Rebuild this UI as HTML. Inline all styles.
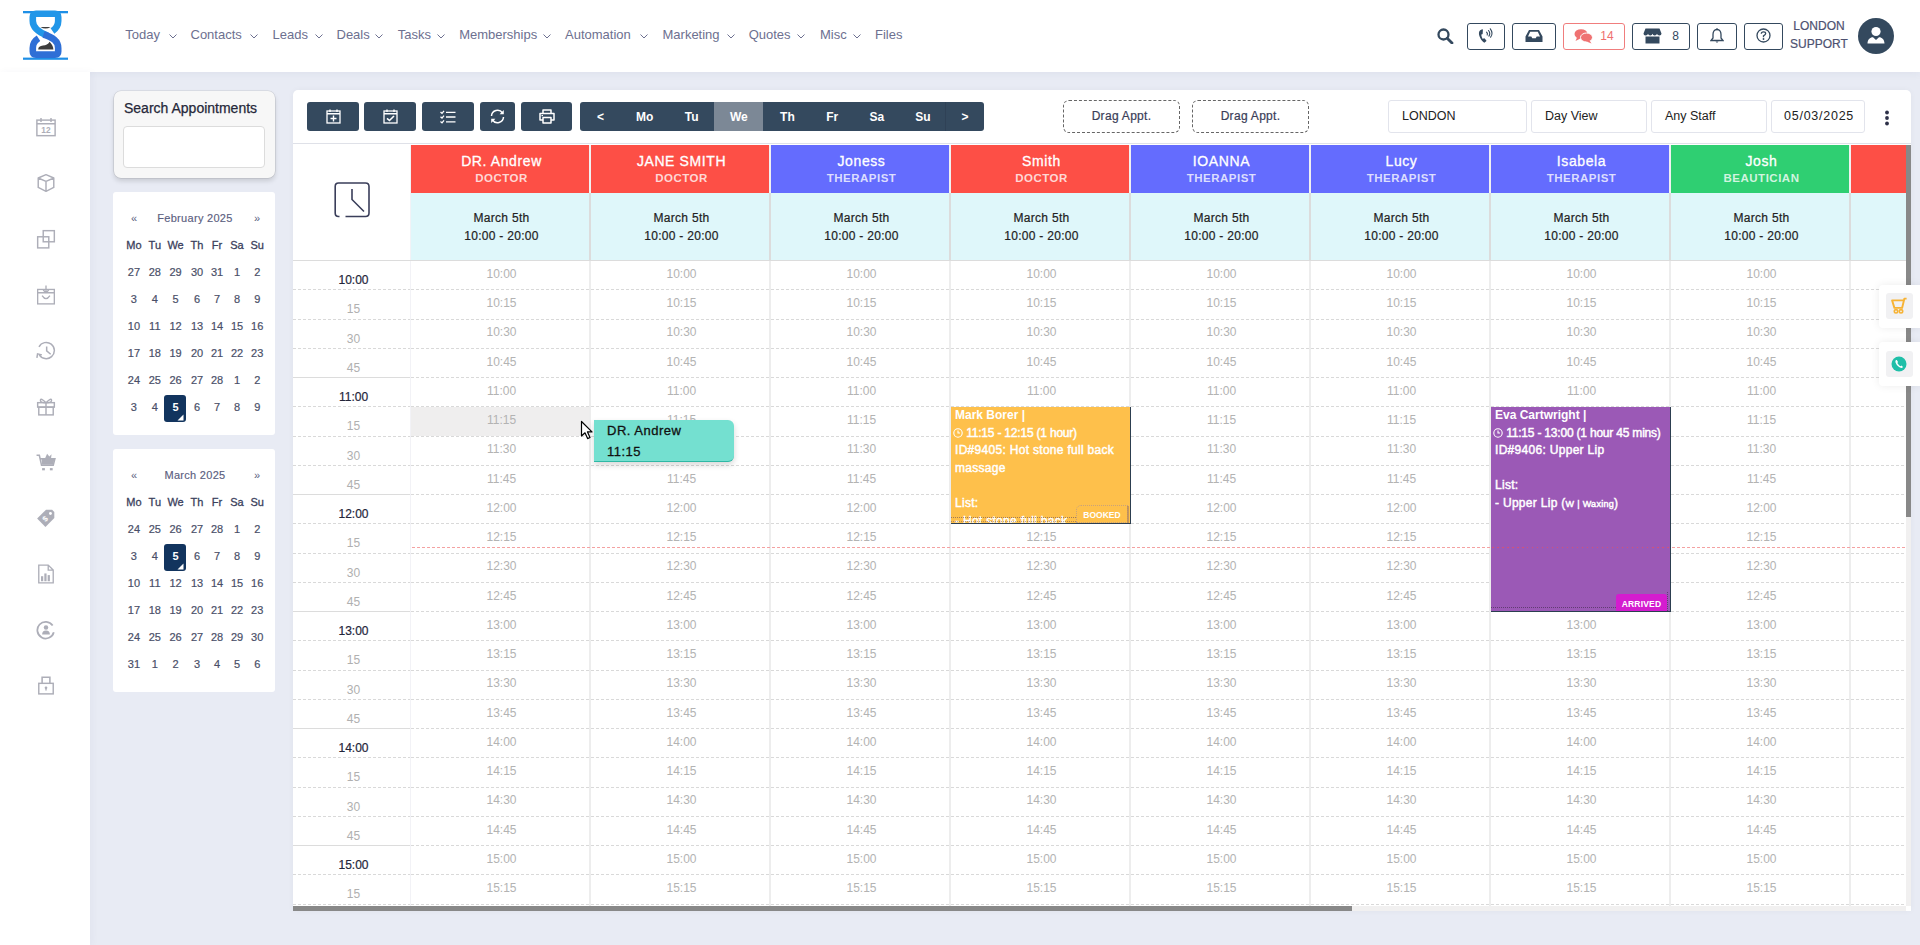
<!DOCTYPE html><html><head><meta charset="utf-8"><title>Calendar</title><style>
*{box-sizing:border-box;margin:0;padding:0}
html,body{width:1920px;height:945px;overflow:hidden}
body{background:#e8ebf4;font-family:"Liberation Sans",sans-serif;position:relative;color:#333}
.a{position:absolute}
#hdr{left:0;top:0;width:1920px;height:72px;background:#fff;box-shadow:0 2px 8px rgba(40,50,100,.05)}
#side{left:0;top:72px;width:90px;height:873px;background:#fff;box-shadow:2px 0 8px rgba(40,50,100,.04)}
.nav{top:27px;font-size:13px;color:#6d7090;white-space:nowrap;line-height:15px}
.chev{top:34px;width:8px;height:5px}
.hb{top:23px;height:27px;border:1.3px solid #34495e;border-radius:3px;display:flex;align-items:center;justify-content:center;color:#34495e;font-size:12px;line-height:12px;padding-bottom:2px}
.sicon{left:35.5px;width:20px;height:20px}
.card{background:#fff;border-radius:3px}
.mc{left:113px;width:162px}
.mdn{font-size:11px;color:#3b3f5c;text-align:center;width:20px;line-height:12px;-webkit-text-stroke:0.3px #3b3f5c}
.md{font-size:11px;color:#4a4f68;text-align:center;width:20px;line-height:12px;-webkit-text-stroke:0.2px #4a4f68}
.tb{top:102px;height:29px;background:#34495e;border-radius:3px;display:flex;align-items:center;justify-content:center}
.dn2{color:#fff;font-weight:bold;font-size:12px;text-align:center;line-height:29px;top:0;height:29px}
.sel{top:100px;height:33px;border:1px solid #e2e4ec;border-radius:3px;font-size:12.5px;color:#222;line-height:31px;padding-left:13px;background:#fff}
.sh{height:48px;top:145px;text-align:center;color:#fff;padding-left:3px;overflow:hidden}
.sh .n{font-size:14px;line-height:16px;margin-top:8px;white-space:nowrap;letter-spacing:0.6px;-webkit-text-stroke:0.3px #fff}
.sh .r{font-size:11.5px;line-height:14px;margin-top:1.5px;font-weight:bold;letter-spacing:0.5px;color:rgba(255,255,255,.78);white-space:nowrap}
.cy{top:193px;height:67px;background:#dff7fa;text-align:center;font-size:12px;color:#222;line-height:18px;letter-spacing:0.3px;-webkit-text-stroke:0.2px #222;padding-top:16px;padding-left:3px}
.sep{width:2px}
.cl{font-size:12px;color:#b3b3b3;text-align:center;width:181px;white-space:nowrap}
.tl{font-size:12px;color:#b0b0b0;text-align:center;width:117px;left:295px}
.tl.h{color:#23253a;-webkit-text-stroke:0.2px #23253a}
.dl{height:1px;background-image:repeating-linear-gradient(to right,#d9d9d9 0 3px,transparent 3px 5px)}
.ap{color:#fff;font-size:12px;line-height:17.6px;overflow:hidden;white-space:nowrap;-webkit-text-stroke:0.45px #fff;letter-spacing:0.3px}
.ap .b{font-weight:bold;-webkit-text-stroke:0;letter-spacing:0}
</style></head><body>
<div id="hdr" class="a"></div>
<svg class="a" style="left:22px;top:10px" width="48" height="52" viewBox="0 0 48 52">
<rect x="1" y="1" width="45" height="2.3" fill="#1e8fe6"/>
<rect x="1" y="47.6" width="45" height="2.2" fill="#1e8fe6"/>
<path d="M25.5 25.5 C16 22, 10.8 18, 10.8 11 L10.8 7 Q10.8 3.8 14 3.8 L33 3.8 Q36.2 3.8 36.2 7 L36.2 11 C36.2 16, 34 18.5, 30.5 21" fill="none" stroke="#2196e8" stroke-width="6.6"/>
<path d="M21.5 24.5 C31 27.5, 36.2 31, 36.2 38 L36.2 41.5 Q36.2 44.6 33 44.6 L14 44.6 Q10.8 44.6 10.8 41.5 L10.8 38 C10.8 33, 13 30.5, 16.5 28.3" fill="none" stroke="#2f6fd6" stroke-width="6.6"/>
<path d="M16.2 39.4 C16.2 37 18 36 21 35.6 C24 35.3 26 34.5 27.6 31.8 C29.5 34 31.4 36.5 31.4 39.4 Z" fill="#3d3d3d"/>
<path d="M18.4 17 Q23.5 20 28.6 17 Z" fill="#3d3d3d"/>
</svg>
<div class="a nav" style="left:125.2px">Today</div>
<svg class="a chev" style="left:168.5px" viewBox="0 0 8 5"><path d="M0.5 0.5 L4 4 L7.5 0.5" fill="none" stroke="#6d7090" stroke-width="1"/></svg>
<div class="a nav" style="left:190.5px">Contacts</div>
<svg class="a chev" style="left:250.4px" viewBox="0 0 8 5"><path d="M0.5 0.5 L4 4 L7.5 0.5" fill="none" stroke="#6d7090" stroke-width="1"/></svg>
<div class="a nav" style="left:272.5px">Leads</div>
<svg class="a chev" style="left:314.5px" viewBox="0 0 8 5"><path d="M0.5 0.5 L4 4 L7.5 0.5" fill="none" stroke="#6d7090" stroke-width="1"/></svg>
<div class="a nav" style="left:336.5px">Deals</div>
<svg class="a chev" style="left:375px" viewBox="0 0 8 5"><path d="M0.5 0.5 L4 4 L7.5 0.5" fill="none" stroke="#6d7090" stroke-width="1"/></svg>
<div class="a nav" style="left:397.7px">Tasks</div>
<svg class="a chev" style="left:436.5px" viewBox="0 0 8 5"><path d="M0.5 0.5 L4 4 L7.5 0.5" fill="none" stroke="#6d7090" stroke-width="1"/></svg>
<div class="a nav" style="left:459.2px">Memberships</div>
<svg class="a chev" style="left:543px" viewBox="0 0 8 5"><path d="M0.5 0.5 L4 4 L7.5 0.5" fill="none" stroke="#6d7090" stroke-width="1"/></svg>
<div class="a nav" style="left:565px">Automation</div>
<svg class="a chev" style="left:640px" viewBox="0 0 8 5"><path d="M0.5 0.5 L4 4 L7.5 0.5" fill="none" stroke="#6d7090" stroke-width="1"/></svg>
<div class="a nav" style="left:662.5px">Marketing</div>
<svg class="a chev" style="left:726.5px" viewBox="0 0 8 5"><path d="M0.5 0.5 L4 4 L7.5 0.5" fill="none" stroke="#6d7090" stroke-width="1"/></svg>
<div class="a nav" style="left:748.7px">Quotes</div>
<svg class="a chev" style="left:797px" viewBox="0 0 8 5"><path d="M0.5 0.5 L4 4 L7.5 0.5" fill="none" stroke="#6d7090" stroke-width="1"/></svg>
<div class="a nav" style="left:820px">Misc</div>
<svg class="a chev" style="left:852.7px" viewBox="0 0 8 5"><path d="M0.5 0.5 L4 4 L7.5 0.5" fill="none" stroke="#6d7090" stroke-width="1"/></svg>
<div class="a nav" style="left:875px">Files</div>
<svg class="a" style="left:1437px;top:28px" width="17" height="16" viewBox="0 0 17 16"><circle cx="6.5" cy="6.5" r="5" fill="none" stroke="#34495e" stroke-width="2.3"/><path d="M10.2 10.2 L15 15" stroke="#34495e" stroke-width="2.8" stroke-linecap="round"/></svg>
<div class="a hb" style="left:1467px;width:38px"><svg width="18" height="18" viewBox="0 0 18 18" style="margin-top:1px"><path d="M5.2 2.2 L3.2 3.2 C1.8 4.4 1.6 6.5 2.4 9 C3.3 11.8 5.2 14.3 7.3 15.8 L9.2 14.3 C9.5 14 9.5 13.6 9.2 13.3 L7.6 11.5 C7.3 11.2 6.9 11.2 6.6 11.5 L5.8 12.1 C5 11 4.4 9.3 4.3 7.6 L5.3 7.2 C5.7 7 5.8 6.6 5.7 6.2 L5.9 2.7 C5.9 2.3 5.6 2.1 5.2 2.2 Z" fill="#34495e"/><path d="M9.6 5.2 Q11 6.3 10.2 8 M11.5 3.5 Q13.8 6.2 11.9 9.1 M13.3 1.8 Q16.6 6.2 13.6 10.2" fill="none" stroke="#34495e" stroke-width="1.1" stroke-linecap="round"/></svg></div>
<div class="a hb" style="left:1512px;width:44px"><svg width="18" height="14" viewBox="0 0 18 14"><path d="M4 1 L14 1 L17.5 7.5 L17.5 13 L0.5 13 L0.5 7.5 Z M3 7.5 L6.3 7.5 L7.3 9.3 L10.7 9.3 L11.7 7.5 L15 7.5 L12.8 2.8 L5.2 2.8 Z" fill="#34495e" fill-rule="evenodd"/></svg></div>
<div class="a hb" style="left:1563px;width:62px;border-color:#f07d7d;color:#ef6f6f"><svg width="19" height="16" viewBox="0 0 19 16" style="margin-right:7px"><ellipse cx="7" cy="6" rx="6.5" ry="4.8" fill="#ef7272"/><path d="M3 9.5 L1.5 13 L6.5 10.5 Z" fill="#ef7272"/><ellipse cx="12.5" cy="9.5" rx="6" ry="4.5" fill="#ef7272" stroke="#fff" stroke-width="1"/><path d="M15.5 12.5 L17.5 15.5 L12.5 13.5 Z" fill="#ef7272"/></svg>14</div>
<div class="a hb" style="left:1632px;width:58px"><svg width="19" height="16" viewBox="0 0 19 16" style="margin-right:10px"><path d="M2.5 0.5 L16.5 0.5 L18.5 5.5 Q18.5 7.5 16.5 7.5 Q14.2 7.5 14 5.8 Q13.6 7.5 11.7 7.5 Q9.7 7.5 9.5 5.8 Q9.2 7.5 7.3 7.5 Q5.3 7.5 5 5.8 Q4.8 7.5 2.5 7.5 Q0.5 7.5 0.5 5.5 Z" fill="#34495e"/><path d="M2.5 8.5 L16.5 8.5 L16.5 15.5 L2.5 15.5 Z" fill="#34495e"/></svg>8</div>
<div class="a hb" style="left:1697px;width:40px"><svg width="14" height="16" viewBox="0 0 14 16"><path d="M7 1.5 C4 1.5 3 4 3 6.5 L3 10 L1 12.5 L13 12.5 L11 10 L11 6.5 C11 4 10 1.5 7 1.5 Z" fill="none" stroke="#34495e" stroke-width="1.3"/><path d="M5.5 13.5 Q7 15.8 8.5 13.5" fill="#34495e"/><rect x="6.3" y="0.3" width="1.4" height="1.8" fill="#34495e"/></svg></div>
<div class="a hb" style="left:1744px;width:39px"><svg width="15" height="15" viewBox="0 0 15 15"><circle cx="7.5" cy="7.5" r="6.5" fill="none" stroke="#34495e" stroke-width="1.3"/><path d="M5.3 5.8 Q5.3 3.8 7.5 3.8 Q9.7 3.8 9.7 5.6 Q9.7 6.9 7.5 7.8 L7.5 9.2" fill="none" stroke="#34495e" stroke-width="1.3"/><circle cx="7.5" cy="11" r="0.9" fill="#34495e"/></svg></div>
<div class="a" style="left:1788px;top:18px;width:62px;text-align:center;font-size:12px;line-height:17.5px;color:#4d5170;-webkit-text-stroke:0.2px #4d5170">LONDON<br>SUPPORT</div>
<div class="a" style="left:1858px;top:18px;width:36px;height:36px;border-radius:50%;background:#34495e"></div>
<svg class="a" style="left:1866px;top:24px" width="20" height="22" viewBox="0 0 20 22"><circle cx="10" cy="7.5" r="4.6" fill="#fff"/><path d="M1.5 19.5 C1.5 15.5 4 13.2 7 13.2 L10 16 L13 13.2 C16 13.2 18.5 15.5 18.5 19.5 Z" fill="#fff"/></svg>
<div id="side" class="a"></div>
<svg class="a sicon" style="top:117px" viewBox="0 0 18 18"><rect x="0.8" y="2.8" width="16.4" height="14" fill="none" stroke="#adaeb8" stroke-width="1.3"/><path d="M0.8 6 L17.2 6 M4.5 0.8 L4.5 4.5 M13.5 0.8 L13.5 4.5" stroke="#adaeb8" stroke-width="1.3"/><text x="9" y="14.6" font-size="7.5" text-anchor="middle" fill="#adaeb8" font-weight="bold" font-family="Liberation Sans">12</text></svg>
<svg class="a sicon" style="top:173px" viewBox="0 0 18 18"><path d="M9 1.5 L16 4.5 L16 13 L9 16.5 L2 13 L2 4.5 Z M2 4.5 L9 7.5 L16 4.5 M9 7.5 L9 16.5" fill="none" stroke="#adaeb8" stroke-width="1.3" stroke-linejoin="round"/></svg>
<svg class="a sicon" style="top:229px" viewBox="0 0 18 18"><rect x="1.5" y="7" width="10" height="10" fill="none" stroke="#adaeb8" stroke-width="1.3"/><rect x="6.5" y="1.5" width="10" height="10" fill="none" stroke="#adaeb8" stroke-width="1.3"/></svg>
<svg class="a sicon" style="top:285px" viewBox="0 0 18 18"><rect x="1.5" y="4" width="15" height="13" fill="none" stroke="#adaeb8" stroke-width="1.2"/><path d="M1.5 7 L16.5 7 M9 0.5 L9 7 M6.5 4.5 L9 7 L11.5 4.5 M5.5 9.5 Q9 15 12.5 9.5" fill="none" stroke="#adaeb8" stroke-width="1.2"/></svg>
<svg class="a sicon" style="top:341px" viewBox="0 0 18 18"><path d="M2.7 5.3 A7.3 7.3 0 1 1 2.9 12.25" fill="none" stroke="#adaeb8" stroke-width="1.35"/><path d="M5.3 12.5 L1.4 11.6 L0.8 15.2" fill="none" stroke="#adaeb8" stroke-width="1.35"/><path d="M9.6 4.9 L9.6 8.9 L13.2 11.9" fill="none" stroke="#adaeb8" stroke-width="1.35"/></svg>
<svg class="a sicon" style="top:396px" viewBox="0 0 18 18"><rect x="1.5" y="6" width="15" height="4" fill="none" stroke="#adaeb8" stroke-width="1.3"/><rect x="2.5" y="10" width="13" height="7" fill="none" stroke="#adaeb8" stroke-width="1.3"/><path d="M9 6 L9 17 M9 6 Q4 1 4 4 Q4 6 9 6 Q14 1 14 4 Q14 6 9 6" fill="none" stroke="#adaeb8" stroke-width="1.3"/></svg>
<svg class="a sicon" style="top:452px" viewBox="0 0 18 18"><path d="M0.5 3 L3 3 L5 12 L15.5 12 L17 6 L4 6" fill="none" stroke="#adaeb8" stroke-width="1.4"/><path d="M5 6 L16.5 6 L15.5 11.5 L5.5 11.5 Z" fill="#adaeb8"/><path d="M8 6 L10 1.5 L12 4 L14 2 L13.5 6 Z" fill="#adaeb8"/><rect x="5.5" y="14.5" width="2.5" height="2" fill="#adaeb8"/><rect x="12.5" y="14.5" width="2.5" height="2" fill="#adaeb8"/></svg>
<svg class="a sicon" style="top:508px" viewBox="0 0 18 18"><path d="M1 9.5 L9 1.5 L14.5 1.5 L16.5 3.5 L16.5 9 L8.5 17 Z" fill="#adaeb8"/><circle cx="13" cy="5" r="1.3" fill="#fff"/><text x="8.5" y="12" font-size="7" fill="#fff" text-anchor="middle" font-family="Liberation Sans" font-weight="bold" transform="rotate(-45 8.5 10)">$</text></svg>
<svg class="a sicon" style="top:564px" viewBox="0 0 18 18"><path d="M2.5 1 L11 1 L15.5 5.5 L15.5 17 L2.5 17 Z M11 1 L11 5.5 L15.5 5.5" fill="none" stroke="#adaeb8" stroke-width="1.2"/><rect x="4.5" y="11" width="2" height="4.5" fill="#adaeb8"/><rect x="7.5" y="8.5" width="2" height="7" fill="#adaeb8"/><rect x="10.5" y="10" width="2" height="5.5" fill="#adaeb8"/></svg>
<svg class="a sicon" style="top:620px" viewBox="0 0 18 18"><path d="M15 5 A7.5 7.5 0 1 0 16 11" fill="none" stroke="#adaeb8" stroke-width="1.6"/><circle cx="9" cy="6.8" r="2" fill="#adaeb8"/><path d="M5.5 13 Q5.5 9.5 9 9.5 Q12.5 9.5 12.5 13 Z" fill="#adaeb8"/></svg>
<svg class="a sicon" style="top:675px" viewBox="0 0 18 18"><rect x="2.5" y="7.5" width="13" height="9.5" fill="none" stroke="#adaeb8" stroke-width="1.3"/><path d="M5.5 7.5 L5.5 2 L12.5 2 L12.5 7.5" fill="none" stroke="#adaeb8" stroke-width="1.4"/><circle cx="9" cy="11.5" r="1.2" fill="#adaeb8"/><rect x="8.4" y="11.5" width="1.2" height="2.5" fill="#adaeb8"/></svg>
<div class="a" style="left:113.5px;top:90.5px;width:161px;height:87px;background:#f7f7f7;border-radius:7px;box-shadow:0 0 0 0.6px rgba(0,0,0,.12),0 3px 5px rgba(0,0,0,.14)"></div>
<div class="a" style="left:124px;top:100px;font-size:14px;color:#26283a;white-space:nowrap;line-height:16px;-webkit-text-stroke:0.25px #26283a">Search Appointments</div>
<div class="a" style="left:123px;top:126px;width:142px;height:42px;background:#fff;border:1px solid #dcdcdc;border-radius:4px"></div>
<div class="a card mc" style="top:192px;height:243px"></div>
<div class="a" style="top:212px;left:113px;width:162px;line-height:13px"><span class="a" style="left:18px;font-size:11px;color:#5b6080">&laquo;</span><span class="a" style="left:1px;width:162px;text-align:center;font-size:11px;color:#5b6080;letter-spacing:0.3px;-webkit-text-stroke:0.15px #5b6080">February 2025</span><span class="a" style="left:141px;font-size:11px;color:#5b6080">&raquo;</span></div>
<div class="a mdn" style="top:239px;left:123.9px">Mo</div>
<div class="a mdn" style="top:239px;left:144.8px">Tu</div>
<div class="a mdn" style="top:239px;left:165.6px">We</div>
<div class="a mdn" style="top:239px;left:187.0px">Th</div>
<div class="a mdn" style="top:239px;left:207.0px">Fr</div>
<div class="a mdn" style="top:239px;left:227.0px">Sa</div>
<div class="a mdn" style="top:239px;left:247.2px">Su</div>
<div class="a md" style="top:266px;left:123.9px">27</div>
<div class="a md" style="top:266px;left:144.8px">28</div>
<div class="a md" style="top:266px;left:165.6px">29</div>
<div class="a md" style="top:266px;left:187.0px">30</div>
<div class="a md" style="top:266px;left:207.0px">31</div>
<div class="a md" style="top:266px;left:227.0px">1</div>
<div class="a md" style="top:266px;left:247.2px">2</div>
<div class="a md" style="top:293px;left:123.9px">3</div>
<div class="a md" style="top:293px;left:144.8px">4</div>
<div class="a md" style="top:293px;left:165.6px">5</div>
<div class="a md" style="top:293px;left:187.0px">6</div>
<div class="a md" style="top:293px;left:207.0px">7</div>
<div class="a md" style="top:293px;left:227.0px">8</div>
<div class="a md" style="top:293px;left:247.2px">9</div>
<div class="a md" style="top:320px;left:123.9px">10</div>
<div class="a md" style="top:320px;left:144.8px">11</div>
<div class="a md" style="top:320px;left:165.6px">12</div>
<div class="a md" style="top:320px;left:187.0px">13</div>
<div class="a md" style="top:320px;left:207.0px">14</div>
<div class="a md" style="top:320px;left:227.0px">15</div>
<div class="a md" style="top:320px;left:247.2px">16</div>
<div class="a md" style="top:347px;left:123.9px">17</div>
<div class="a md" style="top:347px;left:144.8px">18</div>
<div class="a md" style="top:347px;left:165.6px">19</div>
<div class="a md" style="top:347px;left:187.0px">20</div>
<div class="a md" style="top:347px;left:207.0px">21</div>
<div class="a md" style="top:347px;left:227.0px">22</div>
<div class="a md" style="top:347px;left:247.2px">23</div>
<div class="a md" style="top:374px;left:123.9px">24</div>
<div class="a md" style="top:374px;left:144.8px">25</div>
<div class="a md" style="top:374px;left:165.6px">26</div>
<div class="a md" style="top:374px;left:187.0px">27</div>
<div class="a md" style="top:374px;left:207.0px">28</div>
<div class="a md" style="top:374px;left:227.0px">1</div>
<div class="a md" style="top:374px;left:247.2px">2</div>
<div class="a md" style="top:401px;left:123.9px">3</div>
<div class="a md" style="top:401px;left:144.8px">4</div>
<div class="a" style="left:164px;top:394.5px;width:22px;height:27px;background:#12345e;border-radius:3px"></div>
<svg class="a" style="left:177px;top:413.5px" width="7" height="7" viewBox="0 0 7 7"><path d="M0.5 6.5 L6.5 6.5 L6.5 0.5 Z" fill="#fff"/></svg>
<div class="a md" style="top:401px;left:165.6px;color:#fff;font-weight:bold;-webkit-text-stroke:0">5</div>
<div class="a md" style="top:401px;left:187.0px">6</div>
<div class="a md" style="top:401px;left:207.0px">7</div>
<div class="a md" style="top:401px;left:227.0px">8</div>
<div class="a md" style="top:401px;left:247.2px">9</div>
<div class="a card mc" style="top:449px;height:243px"></div>
<div class="a" style="top:469px;left:113px;width:162px;line-height:13px"><span class="a" style="left:18px;font-size:11px;color:#5b6080">&laquo;</span><span class="a" style="left:1px;width:162px;text-align:center;font-size:11px;color:#5b6080;letter-spacing:0.3px;-webkit-text-stroke:0.15px #5b6080">March 2025</span><span class="a" style="left:141px;font-size:11px;color:#5b6080">&raquo;</span></div>
<div class="a mdn" style="top:496px;left:123.9px">Mo</div>
<div class="a mdn" style="top:496px;left:144.8px">Tu</div>
<div class="a mdn" style="top:496px;left:165.6px">We</div>
<div class="a mdn" style="top:496px;left:187.0px">Th</div>
<div class="a mdn" style="top:496px;left:207.0px">Fr</div>
<div class="a mdn" style="top:496px;left:227.0px">Sa</div>
<div class="a mdn" style="top:496px;left:247.2px">Su</div>
<div class="a md" style="top:523px;left:123.9px">24</div>
<div class="a md" style="top:523px;left:144.8px">25</div>
<div class="a md" style="top:523px;left:165.6px">26</div>
<div class="a md" style="top:523px;left:187.0px">27</div>
<div class="a md" style="top:523px;left:207.0px">28</div>
<div class="a md" style="top:523px;left:227.0px">1</div>
<div class="a md" style="top:523px;left:247.2px">2</div>
<div class="a md" style="top:550px;left:123.9px">3</div>
<div class="a md" style="top:550px;left:144.8px">4</div>
<div class="a" style="left:164px;top:543.5px;width:22px;height:27px;background:#12345e;border-radius:3px"></div>
<svg class="a" style="left:177px;top:562.5px" width="7" height="7" viewBox="0 0 7 7"><path d="M0.5 6.5 L6.5 6.5 L6.5 0.5 Z" fill="#fff"/></svg>
<div class="a md" style="top:550px;left:165.6px;color:#fff;font-weight:bold;-webkit-text-stroke:0">5</div>
<div class="a md" style="top:550px;left:187.0px">6</div>
<div class="a md" style="top:550px;left:207.0px">7</div>
<div class="a md" style="top:550px;left:227.0px">8</div>
<div class="a md" style="top:550px;left:247.2px">9</div>
<div class="a md" style="top:577px;left:123.9px">10</div>
<div class="a md" style="top:577px;left:144.8px">11</div>
<div class="a md" style="top:577px;left:165.6px">12</div>
<div class="a md" style="top:577px;left:187.0px">13</div>
<div class="a md" style="top:577px;left:207.0px">14</div>
<div class="a md" style="top:577px;left:227.0px">15</div>
<div class="a md" style="top:577px;left:247.2px">16</div>
<div class="a md" style="top:604px;left:123.9px">17</div>
<div class="a md" style="top:604px;left:144.8px">18</div>
<div class="a md" style="top:604px;left:165.6px">19</div>
<div class="a md" style="top:604px;left:187.0px">20</div>
<div class="a md" style="top:604px;left:207.0px">21</div>
<div class="a md" style="top:604px;left:227.0px">22</div>
<div class="a md" style="top:604px;left:247.2px">23</div>
<div class="a md" style="top:631px;left:123.9px">24</div>
<div class="a md" style="top:631px;left:144.8px">25</div>
<div class="a md" style="top:631px;left:165.6px">26</div>
<div class="a md" style="top:631px;left:187.0px">27</div>
<div class="a md" style="top:631px;left:207.0px">28</div>
<div class="a md" style="top:631px;left:227.0px">29</div>
<div class="a md" style="top:631px;left:247.2px">30</div>
<div class="a md" style="top:658px;left:123.9px">31</div>
<div class="a md" style="top:658px;left:144.8px">1</div>
<div class="a md" style="top:658px;left:165.6px">2</div>
<div class="a md" style="top:658px;left:187.0px">3</div>
<div class="a md" style="top:658px;left:207.0px">4</div>
<div class="a md" style="top:658px;left:227.0px">5</div>
<div class="a md" style="top:658px;left:247.2px">6</div>
<div class="a" style="left:293px;top:90px;width:1618px;height:821px;background:#fff;border-radius:5px 5px 0 0;box-shadow:0 0 6px rgba(0,0,0,.04)"></div>
<div class="a tb" style="left:307px;width:52px"><svg width="15" height="15" viewBox="0 0 15 15"><rect x="1" y="2" width="13" height="12" fill="none" stroke="#fff" stroke-width="1.3"/><path d="M1 4.8 L14 4.8 M4 0.5 L4 3 M11 0.5 L11 3 M7.5 6.5 L7.5 12.5 M4.5 9.5 L10.5 9.5" stroke="#fff" stroke-width="1.4"/></svg></div>
<div class="a tb" style="left:364px;width:52px"><svg width="15" height="15" viewBox="0 0 15 15"><rect x="1" y="2" width="13" height="12" fill="none" stroke="#fff" stroke-width="1.3"/><path d="M1 4.8 L14 4.8 M4 0.5 L4 3 M11 0.5 L11 3" stroke="#fff" stroke-width="1.4"/><path d="M4 9.3 L6.5 11.5 L11 7" fill="none" stroke="#fff" stroke-width="1.6"/></svg></div>
<div class="a tb" style="left:422px;width:52px"><svg width="16" height="14" viewBox="0 0 16 14"><path d="M0.5 2 L2 3.3 L4 0.8 M0.5 6.8 L2 8.1 L4 5.6 M0.5 11.6 L2 12.9 L4 10.4" fill="none" stroke="#fff" stroke-width="1.3"/><path d="M6 2.3 L15.5 2.3 M6 7 L15.5 7 M6 11.8 L15.5 11.8" stroke="#fff" stroke-width="1.3"/></svg></div>
<div class="a tb" style="left:480px;width:35px"><svg width="15" height="15" viewBox="0 0 15 15"><path d="M1.5 7 A6 6 0 0 1 12.5 4 M13.5 8 A6 6 0 0 1 2.5 11" fill="none" stroke="#fff" stroke-width="1.5"/><path d="M13.8 1 L13.8 5.2 L9.6 5.2 Z M1.2 14 L1.2 9.8 L5.4 9.8 Z" fill="#fff"/></svg></div>
<div class="a tb" style="left:521px;width:51px"><svg width="16" height="15" viewBox="0 0 16 15"><path d="M4 4.5 L4 1 L12 1 L12 4.5 M4 11 L1 11 L1 4.5 L15 4.5 L15 11 L12 11 M4 8.5 L12 8.5 L12 14 L4 14 Z" fill="none" stroke="#fff" stroke-width="1.5" stroke-linejoin="round"/><rect x="2.5" y="6" width="1.5" height="1.2" fill="#fff"/></svg></div>
<div class="a tb" style="left:580px;width:404px"></div>
<div class="a" style="left:714px;top:102px;width:49px;height:29px;background:#7c8896"></div>
<div class="a" style="left:945px;top:102px;width:1px;height:29px;background:#2f4156"></div>
<div class="a dn2" style="left:580.5px;width:40px;top:103px">&lt;</div>
<div class="a dn2" style="left:624.6px;width:40px;top:103px">Mo</div>
<div class="a dn2" style="left:671.7px;width:40px;top:103px">Tu</div>
<div class="a dn2" style="left:718.8px;width:40px;top:103px">We</div>
<div class="a dn2" style="left:767.4px;width:40px;top:103px">Th</div>
<div class="a dn2" style="left:812.2px;width:40px;top:103px">Fr</div>
<div class="a dn2" style="left:856.9px;width:40px;top:103px">Sa</div>
<div class="a dn2" style="left:903px;width:40px;top:103px">Su</div>
<div class="a dn2" style="left:945.1px;width:40px;top:103px">&gt;</div>
<div class="a" style="left:1063px;top:100px;width:117px;height:33px;border:1px dashed #666;border-radius:6px;font-size:12px;color:#3a3d58;-webkit-text-stroke:0.2px #3a3d58;letter-spacing:0.3px;text-align:center;line-height:31px">Drag Appt.</div>
<div class="a" style="left:1192px;top:100px;width:117px;height:33px;border:1px dashed #666;border-radius:6px;font-size:12px;color:#3a3d58;-webkit-text-stroke:0.2px #3a3d58;letter-spacing:0.3px;text-align:center;line-height:31px">Drag Appt.</div>
<div class="a sel" style="left:1388px;width:139px">LONDON</div>
<div class="a sel" style="left:1531px;width:116px">Day View</div>
<div class="a sel" style="left:1651px;width:116px">Any Staff</div>
<div class="a sel" style="left:1771px;width:94px;letter-spacing:0.75px;padding-left:12px">05/03/2025</div>
<svg class="a" style="left:1884px;top:110px" width="6" height="16" viewBox="0 0 6 16"><circle cx="3" cy="2.5" r="1.9" fill="#2d3048"/><circle cx="3" cy="8" r="1.9" fill="#2d3048"/><circle cx="3" cy="13.5" r="1.9" fill="#2d3048"/></svg>
<div class="a" style="left:293px;top:143px;width:1618px;height:1px;background:#dfe1e8"></div>
<svg class="a" style="left:334px;top:182px" width="36" height="36" viewBox="0 0 36 36"><path d="M5.5 34.5 L4.5 34.5 Q1.2 34.5 1.2 31 L1.2 4.5 Q1.2 1 4.5 1 L31.5 1 Q35 1 35 4.5 L35 31 Q35 34.5 31.5 34.5 L11.5 34.5" fill="none" stroke="#3a3e5a" stroke-width="1.6"/><path d="M18 7 L18 17.5 L30 29.5" fill="none" stroke="#3a3e5a" stroke-width="1.6"/></svg>
<div class="a sh" style="left:411px;width:178px;background:#fd4f46"><div class="n">DR. Andrew</div><div class="r">DOCTOR</div></div>
<div class="a cy" style="left:411px;width:178px">March 5th<br>10:00 - 20:00</div>
<div class="a sep" style="left:589px;top:145px;height:48px;background:#f1f1f1"></div>
<div class="a sep" style="left:589px;top:193px;height:67px;background:#dcdcdc"></div>
<div class="a sep" style="left:589px;top:261px;height:645px;background:#ededed"></div>
<div class="a sh" style="left:591px;width:178px;background:#fd4f46"><div class="n">JANE SMITH</div><div class="r">DOCTOR</div></div>
<div class="a cy" style="left:591px;width:178px">March 5th<br>10:00 - 20:00</div>
<div class="a sep" style="left:769px;top:145px;height:48px;background:#f1f1f1"></div>
<div class="a sep" style="left:769px;top:193px;height:67px;background:#dcdcdc"></div>
<div class="a sep" style="left:769px;top:261px;height:645px;background:#ededed"></div>
<div class="a sh" style="left:771px;width:178px;background:#646cfe"><div class="n">Joness</div><div class="r">THERAPIST</div></div>
<div class="a cy" style="left:771px;width:178px">March 5th<br>10:00 - 20:00</div>
<div class="a sep" style="left:949px;top:145px;height:48px;background:#f1f1f1"></div>
<div class="a sep" style="left:949px;top:193px;height:67px;background:#dcdcdc"></div>
<div class="a sep" style="left:949px;top:261px;height:645px;background:#ededed"></div>
<div class="a sh" style="left:951px;width:178px;background:#fd4f46"><div class="n">Smith</div><div class="r">DOCTOR</div></div>
<div class="a cy" style="left:951px;width:178px">March 5th<br>10:00 - 20:00</div>
<div class="a sep" style="left:1129px;top:145px;height:48px;background:#f1f1f1"></div>
<div class="a sep" style="left:1129px;top:193px;height:67px;background:#dcdcdc"></div>
<div class="a sep" style="left:1129px;top:261px;height:645px;background:#ededed"></div>
<div class="a sh" style="left:1131px;width:178px;background:#646cfe"><div class="n">IOANNA</div><div class="r">THERAPIST</div></div>
<div class="a cy" style="left:1131px;width:178px">March 5th<br>10:00 - 20:00</div>
<div class="a sep" style="left:1309px;top:145px;height:48px;background:#f1f1f1"></div>
<div class="a sep" style="left:1309px;top:193px;height:67px;background:#dcdcdc"></div>
<div class="a sep" style="left:1309px;top:261px;height:645px;background:#ededed"></div>
<div class="a sh" style="left:1311px;width:178px;background:#646cfe"><div class="n">Lucy</div><div class="r">THERAPIST</div></div>
<div class="a cy" style="left:1311px;width:178px">March 5th<br>10:00 - 20:00</div>
<div class="a sep" style="left:1489px;top:145px;height:48px;background:#f1f1f1"></div>
<div class="a sep" style="left:1489px;top:193px;height:67px;background:#dcdcdc"></div>
<div class="a sep" style="left:1489px;top:261px;height:645px;background:#ededed"></div>
<div class="a sh" style="left:1491px;width:178px;background:#646cfe"><div class="n">Isabela</div><div class="r">THERAPIST</div></div>
<div class="a cy" style="left:1491px;width:178px">March 5th<br>10:00 - 20:00</div>
<div class="a sep" style="left:1669px;top:145px;height:48px;background:#f1f1f1"></div>
<div class="a sep" style="left:1669px;top:193px;height:67px;background:#dcdcdc"></div>
<div class="a sep" style="left:1669px;top:261px;height:645px;background:#ededed"></div>
<div class="a sh" style="left:1671px;width:178px;background:#2fcf72"><div class="n">Josh</div><div class="r">BEAUTICIAN</div></div>
<div class="a cy" style="left:1671px;width:178px">March 5th<br>10:00 - 20:00</div>
<div class="a sep" style="left:1849px;top:145px;height:48px;background:#f1f1f1"></div>
<div class="a sep" style="left:1849px;top:193px;height:67px;background:#dcdcdc"></div>
<div class="a sep" style="left:1849px;top:261px;height:645px;background:#ededed"></div>
<div class="a sh" style="left:1851px;width:55px;background:#fd4f46"><div class="n"></div><div class="r"></div></div>
<div class="a cy" style="left:1851px;width:55px"></div>
<div class="a" style="left:410px;top:145px;width:1px;height:761px;background:#f2f2f6"></div>
<div class="a" style="left:293px;top:260px;width:1613px;height:1px;background:#dcdcdc"></div>
<div class="a" style="left:411px;top:407px;width:178px;height:29px;background:#efeeee"></div>
<div class="a dl" style="left:293px;top:289px;width:117px"></div>
<div class="a dl" style="left:411px;top:289px;width:178px"></div>
<div class="a cl" style="left:411px;top:266.90px">10:00</div>
<div class="a dl" style="left:591px;top:289px;width:178px"></div>
<div class="a cl" style="left:591px;top:266.90px">10:00</div>
<div class="a dl" style="left:771px;top:289px;width:178px"></div>
<div class="a cl" style="left:771px;top:266.90px">10:00</div>
<div class="a dl" style="left:951px;top:289px;width:178px"></div>
<div class="a cl" style="left:951px;top:266.90px">10:00</div>
<div class="a dl" style="left:1131px;top:289px;width:178px"></div>
<div class="a cl" style="left:1131px;top:266.90px">10:00</div>
<div class="a dl" style="left:1311px;top:289px;width:178px"></div>
<div class="a cl" style="left:1311px;top:266.90px">10:00</div>
<div class="a dl" style="left:1491px;top:289px;width:178px"></div>
<div class="a cl" style="left:1491px;top:266.90px">10:00</div>
<div class="a dl" style="left:1671px;top:289px;width:178px"></div>
<div class="a cl" style="left:1671px;top:266.90px">10:00</div>
<div class="a dl" style="left:1851px;top:289px;width:55px"></div>
<div class="a" style="left:1851px;top:266.90px;width:55px;overflow:hidden;height:16px"><div class="cl">10:00</div></div>
<div class="a tl h" style="top:273.00px">10:00</div>
<div class="a dl" style="left:293px;top:319px;width:117px"></div>
<div class="a dl" style="left:411px;top:319px;width:178px"></div>
<div class="a cl" style="left:411px;top:296.15px">10:15</div>
<div class="a dl" style="left:591px;top:319px;width:178px"></div>
<div class="a cl" style="left:591px;top:296.15px">10:15</div>
<div class="a dl" style="left:771px;top:319px;width:178px"></div>
<div class="a cl" style="left:771px;top:296.15px">10:15</div>
<div class="a dl" style="left:951px;top:319px;width:178px"></div>
<div class="a cl" style="left:951px;top:296.15px">10:15</div>
<div class="a dl" style="left:1131px;top:319px;width:178px"></div>
<div class="a cl" style="left:1131px;top:296.15px">10:15</div>
<div class="a dl" style="left:1311px;top:319px;width:178px"></div>
<div class="a cl" style="left:1311px;top:296.15px">10:15</div>
<div class="a dl" style="left:1491px;top:319px;width:178px"></div>
<div class="a cl" style="left:1491px;top:296.15px">10:15</div>
<div class="a dl" style="left:1671px;top:319px;width:178px"></div>
<div class="a cl" style="left:1671px;top:296.15px">10:15</div>
<div class="a dl" style="left:1851px;top:319px;width:55px"></div>
<div class="a" style="left:1851px;top:296.15px;width:55px;overflow:hidden;height:16px"><div class="cl">10:15</div></div>
<div class="a tl" style="top:302.25px">15</div>
<div class="a dl" style="left:293px;top:348px;width:117px"></div>
<div class="a dl" style="left:411px;top:348px;width:178px"></div>
<div class="a cl" style="left:411px;top:325.40px">10:30</div>
<div class="a dl" style="left:591px;top:348px;width:178px"></div>
<div class="a cl" style="left:591px;top:325.40px">10:30</div>
<div class="a dl" style="left:771px;top:348px;width:178px"></div>
<div class="a cl" style="left:771px;top:325.40px">10:30</div>
<div class="a dl" style="left:951px;top:348px;width:178px"></div>
<div class="a cl" style="left:951px;top:325.40px">10:30</div>
<div class="a dl" style="left:1131px;top:348px;width:178px"></div>
<div class="a cl" style="left:1131px;top:325.40px">10:30</div>
<div class="a dl" style="left:1311px;top:348px;width:178px"></div>
<div class="a cl" style="left:1311px;top:325.40px">10:30</div>
<div class="a dl" style="left:1491px;top:348px;width:178px"></div>
<div class="a cl" style="left:1491px;top:325.40px">10:30</div>
<div class="a dl" style="left:1671px;top:348px;width:178px"></div>
<div class="a cl" style="left:1671px;top:325.40px">10:30</div>
<div class="a dl" style="left:1851px;top:348px;width:55px"></div>
<div class="a" style="left:1851px;top:325.40px;width:55px;overflow:hidden;height:16px"><div class="cl">10:30</div></div>
<div class="a tl" style="top:331.50px">30</div>
<div class="a" style="left:293px;top:377px;width:117px;height:1px;background:#dcdcdc"></div>
<div class="a dl" style="left:411px;top:377px;width:178px"></div>
<div class="a cl" style="left:411px;top:354.65px">10:45</div>
<div class="a dl" style="left:591px;top:377px;width:178px"></div>
<div class="a cl" style="left:591px;top:354.65px">10:45</div>
<div class="a dl" style="left:771px;top:377px;width:178px"></div>
<div class="a cl" style="left:771px;top:354.65px">10:45</div>
<div class="a dl" style="left:951px;top:377px;width:178px"></div>
<div class="a cl" style="left:951px;top:354.65px">10:45</div>
<div class="a dl" style="left:1131px;top:377px;width:178px"></div>
<div class="a cl" style="left:1131px;top:354.65px">10:45</div>
<div class="a dl" style="left:1311px;top:377px;width:178px"></div>
<div class="a cl" style="left:1311px;top:354.65px">10:45</div>
<div class="a dl" style="left:1491px;top:377px;width:178px"></div>
<div class="a cl" style="left:1491px;top:354.65px">10:45</div>
<div class="a dl" style="left:1671px;top:377px;width:178px"></div>
<div class="a cl" style="left:1671px;top:354.65px">10:45</div>
<div class="a dl" style="left:1851px;top:377px;width:55px"></div>
<div class="a" style="left:1851px;top:354.65px;width:55px;overflow:hidden;height:16px"><div class="cl">10:45</div></div>
<div class="a tl" style="top:360.75px">45</div>
<div class="a dl" style="left:293px;top:406px;width:117px"></div>
<div class="a dl" style="left:411px;top:406px;width:178px"></div>
<div class="a cl" style="left:411px;top:383.90px">11:00</div>
<div class="a dl" style="left:591px;top:406px;width:178px"></div>
<div class="a cl" style="left:591px;top:383.90px">11:00</div>
<div class="a dl" style="left:771px;top:406px;width:178px"></div>
<div class="a cl" style="left:771px;top:383.90px">11:00</div>
<div class="a dl" style="left:951px;top:406px;width:178px"></div>
<div class="a cl" style="left:951px;top:383.90px">11:00</div>
<div class="a dl" style="left:1131px;top:406px;width:178px"></div>
<div class="a cl" style="left:1131px;top:383.90px">11:00</div>
<div class="a dl" style="left:1311px;top:406px;width:178px"></div>
<div class="a cl" style="left:1311px;top:383.90px">11:00</div>
<div class="a dl" style="left:1491px;top:406px;width:178px"></div>
<div class="a cl" style="left:1491px;top:383.90px">11:00</div>
<div class="a dl" style="left:1671px;top:406px;width:178px"></div>
<div class="a cl" style="left:1671px;top:383.90px">11:00</div>
<div class="a dl" style="left:1851px;top:406px;width:55px"></div>
<div class="a" style="left:1851px;top:383.90px;width:55px;overflow:hidden;height:16px"><div class="cl">11:00</div></div>
<div class="a tl h" style="top:390.00px">11:00</div>
<div class="a dl" style="left:293px;top:436px;width:117px"></div>
<div class="a dl" style="left:411px;top:436px;width:178px"></div>
<div class="a cl" style="left:411px;top:413.15px">11:15</div>
<div class="a dl" style="left:591px;top:436px;width:178px"></div>
<div class="a cl" style="left:591px;top:413.15px">11:15</div>
<div class="a dl" style="left:771px;top:436px;width:178px"></div>
<div class="a cl" style="left:771px;top:413.15px">11:15</div>
<div class="a dl" style="left:951px;top:436px;width:178px"></div>
<div class="a cl" style="left:951px;top:413.15px">11:15</div>
<div class="a dl" style="left:1131px;top:436px;width:178px"></div>
<div class="a cl" style="left:1131px;top:413.15px">11:15</div>
<div class="a dl" style="left:1311px;top:436px;width:178px"></div>
<div class="a cl" style="left:1311px;top:413.15px">11:15</div>
<div class="a dl" style="left:1491px;top:436px;width:178px"></div>
<div class="a cl" style="left:1491px;top:413.15px">11:15</div>
<div class="a dl" style="left:1671px;top:436px;width:178px"></div>
<div class="a cl" style="left:1671px;top:413.15px">11:15</div>
<div class="a dl" style="left:1851px;top:436px;width:55px"></div>
<div class="a" style="left:1851px;top:413.15px;width:55px;overflow:hidden;height:16px"><div class="cl">11:15</div></div>
<div class="a tl" style="top:419.25px">15</div>
<div class="a dl" style="left:293px;top:465px;width:117px"></div>
<div class="a dl" style="left:411px;top:465px;width:178px"></div>
<div class="a cl" style="left:411px;top:442.40px">11:30</div>
<div class="a dl" style="left:591px;top:465px;width:178px"></div>
<div class="a cl" style="left:591px;top:442.40px">11:30</div>
<div class="a dl" style="left:771px;top:465px;width:178px"></div>
<div class="a cl" style="left:771px;top:442.40px">11:30</div>
<div class="a dl" style="left:951px;top:465px;width:178px"></div>
<div class="a cl" style="left:951px;top:442.40px">11:30</div>
<div class="a dl" style="left:1131px;top:465px;width:178px"></div>
<div class="a cl" style="left:1131px;top:442.40px">11:30</div>
<div class="a dl" style="left:1311px;top:465px;width:178px"></div>
<div class="a cl" style="left:1311px;top:442.40px">11:30</div>
<div class="a dl" style="left:1491px;top:465px;width:178px"></div>
<div class="a cl" style="left:1491px;top:442.40px">11:30</div>
<div class="a dl" style="left:1671px;top:465px;width:178px"></div>
<div class="a cl" style="left:1671px;top:442.40px">11:30</div>
<div class="a dl" style="left:1851px;top:465px;width:55px"></div>
<div class="a" style="left:1851px;top:442.40px;width:55px;overflow:hidden;height:16px"><div class="cl">11:30</div></div>
<div class="a tl" style="top:448.50px">30</div>
<div class="a" style="left:293px;top:494px;width:117px;height:1px;background:#dcdcdc"></div>
<div class="a dl" style="left:411px;top:494px;width:178px"></div>
<div class="a cl" style="left:411px;top:471.65px">11:45</div>
<div class="a dl" style="left:591px;top:494px;width:178px"></div>
<div class="a cl" style="left:591px;top:471.65px">11:45</div>
<div class="a dl" style="left:771px;top:494px;width:178px"></div>
<div class="a cl" style="left:771px;top:471.65px">11:45</div>
<div class="a dl" style="left:951px;top:494px;width:178px"></div>
<div class="a cl" style="left:951px;top:471.65px">11:45</div>
<div class="a dl" style="left:1131px;top:494px;width:178px"></div>
<div class="a cl" style="left:1131px;top:471.65px">11:45</div>
<div class="a dl" style="left:1311px;top:494px;width:178px"></div>
<div class="a cl" style="left:1311px;top:471.65px">11:45</div>
<div class="a dl" style="left:1491px;top:494px;width:178px"></div>
<div class="a cl" style="left:1491px;top:471.65px">11:45</div>
<div class="a dl" style="left:1671px;top:494px;width:178px"></div>
<div class="a cl" style="left:1671px;top:471.65px">11:45</div>
<div class="a dl" style="left:1851px;top:494px;width:55px"></div>
<div class="a" style="left:1851px;top:471.65px;width:55px;overflow:hidden;height:16px"><div class="cl">11:45</div></div>
<div class="a tl" style="top:477.75px">45</div>
<div class="a dl" style="left:293px;top:523px;width:117px"></div>
<div class="a dl" style="left:411px;top:523px;width:178px"></div>
<div class="a cl" style="left:411px;top:500.90px">12:00</div>
<div class="a dl" style="left:591px;top:523px;width:178px"></div>
<div class="a cl" style="left:591px;top:500.90px">12:00</div>
<div class="a dl" style="left:771px;top:523px;width:178px"></div>
<div class="a cl" style="left:771px;top:500.90px">12:00</div>
<div class="a dl" style="left:951px;top:523px;width:178px"></div>
<div class="a cl" style="left:951px;top:500.90px">12:00</div>
<div class="a dl" style="left:1131px;top:523px;width:178px"></div>
<div class="a cl" style="left:1131px;top:500.90px">12:00</div>
<div class="a dl" style="left:1311px;top:523px;width:178px"></div>
<div class="a cl" style="left:1311px;top:500.90px">12:00</div>
<div class="a dl" style="left:1491px;top:523px;width:178px"></div>
<div class="a cl" style="left:1491px;top:500.90px">12:00</div>
<div class="a dl" style="left:1671px;top:523px;width:178px"></div>
<div class="a cl" style="left:1671px;top:500.90px">12:00</div>
<div class="a dl" style="left:1851px;top:523px;width:55px"></div>
<div class="a" style="left:1851px;top:500.90px;width:55px;overflow:hidden;height:16px"><div class="cl">12:00</div></div>
<div class="a tl h" style="top:507.00px">12:00</div>
<div class="a dl" style="left:293px;top:553px;width:117px"></div>
<div class="a dl" style="left:411px;top:553px;width:178px"></div>
<div class="a cl" style="left:411px;top:530.15px">12:15</div>
<div class="a dl" style="left:591px;top:553px;width:178px"></div>
<div class="a cl" style="left:591px;top:530.15px">12:15</div>
<div class="a dl" style="left:771px;top:553px;width:178px"></div>
<div class="a cl" style="left:771px;top:530.15px">12:15</div>
<div class="a dl" style="left:951px;top:553px;width:178px"></div>
<div class="a cl" style="left:951px;top:530.15px">12:15</div>
<div class="a dl" style="left:1131px;top:553px;width:178px"></div>
<div class="a cl" style="left:1131px;top:530.15px">12:15</div>
<div class="a dl" style="left:1311px;top:553px;width:178px"></div>
<div class="a cl" style="left:1311px;top:530.15px">12:15</div>
<div class="a dl" style="left:1491px;top:553px;width:178px"></div>
<div class="a cl" style="left:1491px;top:530.15px">12:15</div>
<div class="a dl" style="left:1671px;top:553px;width:178px"></div>
<div class="a cl" style="left:1671px;top:530.15px">12:15</div>
<div class="a dl" style="left:1851px;top:553px;width:55px"></div>
<div class="a" style="left:1851px;top:530.15px;width:55px;overflow:hidden;height:16px"><div class="cl">12:15</div></div>
<div class="a tl" style="top:536.25px">15</div>
<div class="a dl" style="left:293px;top:582px;width:117px"></div>
<div class="a dl" style="left:411px;top:582px;width:178px"></div>
<div class="a cl" style="left:411px;top:559.40px">12:30</div>
<div class="a dl" style="left:591px;top:582px;width:178px"></div>
<div class="a cl" style="left:591px;top:559.40px">12:30</div>
<div class="a dl" style="left:771px;top:582px;width:178px"></div>
<div class="a cl" style="left:771px;top:559.40px">12:30</div>
<div class="a dl" style="left:951px;top:582px;width:178px"></div>
<div class="a cl" style="left:951px;top:559.40px">12:30</div>
<div class="a dl" style="left:1131px;top:582px;width:178px"></div>
<div class="a cl" style="left:1131px;top:559.40px">12:30</div>
<div class="a dl" style="left:1311px;top:582px;width:178px"></div>
<div class="a cl" style="left:1311px;top:559.40px">12:30</div>
<div class="a dl" style="left:1491px;top:582px;width:178px"></div>
<div class="a cl" style="left:1491px;top:559.40px">12:30</div>
<div class="a dl" style="left:1671px;top:582px;width:178px"></div>
<div class="a cl" style="left:1671px;top:559.40px">12:30</div>
<div class="a dl" style="left:1851px;top:582px;width:55px"></div>
<div class="a" style="left:1851px;top:559.40px;width:55px;overflow:hidden;height:16px"><div class="cl">12:30</div></div>
<div class="a tl" style="top:565.50px">30</div>
<div class="a" style="left:293px;top:611px;width:117px;height:1px;background:#dcdcdc"></div>
<div class="a dl" style="left:411px;top:611px;width:178px"></div>
<div class="a cl" style="left:411px;top:588.65px">12:45</div>
<div class="a dl" style="left:591px;top:611px;width:178px"></div>
<div class="a cl" style="left:591px;top:588.65px">12:45</div>
<div class="a dl" style="left:771px;top:611px;width:178px"></div>
<div class="a cl" style="left:771px;top:588.65px">12:45</div>
<div class="a dl" style="left:951px;top:611px;width:178px"></div>
<div class="a cl" style="left:951px;top:588.65px">12:45</div>
<div class="a dl" style="left:1131px;top:611px;width:178px"></div>
<div class="a cl" style="left:1131px;top:588.65px">12:45</div>
<div class="a dl" style="left:1311px;top:611px;width:178px"></div>
<div class="a cl" style="left:1311px;top:588.65px">12:45</div>
<div class="a dl" style="left:1491px;top:611px;width:178px"></div>
<div class="a cl" style="left:1491px;top:588.65px">12:45</div>
<div class="a dl" style="left:1671px;top:611px;width:178px"></div>
<div class="a cl" style="left:1671px;top:588.65px">12:45</div>
<div class="a dl" style="left:1851px;top:611px;width:55px"></div>
<div class="a" style="left:1851px;top:588.65px;width:55px;overflow:hidden;height:16px"><div class="cl">12:45</div></div>
<div class="a tl" style="top:594.75px">45</div>
<div class="a dl" style="left:293px;top:640px;width:117px"></div>
<div class="a dl" style="left:411px;top:640px;width:178px"></div>
<div class="a cl" style="left:411px;top:617.90px">13:00</div>
<div class="a dl" style="left:591px;top:640px;width:178px"></div>
<div class="a cl" style="left:591px;top:617.90px">13:00</div>
<div class="a dl" style="left:771px;top:640px;width:178px"></div>
<div class="a cl" style="left:771px;top:617.90px">13:00</div>
<div class="a dl" style="left:951px;top:640px;width:178px"></div>
<div class="a cl" style="left:951px;top:617.90px">13:00</div>
<div class="a dl" style="left:1131px;top:640px;width:178px"></div>
<div class="a cl" style="left:1131px;top:617.90px">13:00</div>
<div class="a dl" style="left:1311px;top:640px;width:178px"></div>
<div class="a cl" style="left:1311px;top:617.90px">13:00</div>
<div class="a dl" style="left:1491px;top:640px;width:178px"></div>
<div class="a cl" style="left:1491px;top:617.90px">13:00</div>
<div class="a dl" style="left:1671px;top:640px;width:178px"></div>
<div class="a cl" style="left:1671px;top:617.90px">13:00</div>
<div class="a dl" style="left:1851px;top:640px;width:55px"></div>
<div class="a" style="left:1851px;top:617.90px;width:55px;overflow:hidden;height:16px"><div class="cl">13:00</div></div>
<div class="a tl h" style="top:624.00px">13:00</div>
<div class="a dl" style="left:293px;top:670px;width:117px"></div>
<div class="a dl" style="left:411px;top:670px;width:178px"></div>
<div class="a cl" style="left:411px;top:647.15px">13:15</div>
<div class="a dl" style="left:591px;top:670px;width:178px"></div>
<div class="a cl" style="left:591px;top:647.15px">13:15</div>
<div class="a dl" style="left:771px;top:670px;width:178px"></div>
<div class="a cl" style="left:771px;top:647.15px">13:15</div>
<div class="a dl" style="left:951px;top:670px;width:178px"></div>
<div class="a cl" style="left:951px;top:647.15px">13:15</div>
<div class="a dl" style="left:1131px;top:670px;width:178px"></div>
<div class="a cl" style="left:1131px;top:647.15px">13:15</div>
<div class="a dl" style="left:1311px;top:670px;width:178px"></div>
<div class="a cl" style="left:1311px;top:647.15px">13:15</div>
<div class="a dl" style="left:1491px;top:670px;width:178px"></div>
<div class="a cl" style="left:1491px;top:647.15px">13:15</div>
<div class="a dl" style="left:1671px;top:670px;width:178px"></div>
<div class="a cl" style="left:1671px;top:647.15px">13:15</div>
<div class="a dl" style="left:1851px;top:670px;width:55px"></div>
<div class="a" style="left:1851px;top:647.15px;width:55px;overflow:hidden;height:16px"><div class="cl">13:15</div></div>
<div class="a tl" style="top:653.25px">15</div>
<div class="a dl" style="left:293px;top:699px;width:117px"></div>
<div class="a dl" style="left:411px;top:699px;width:178px"></div>
<div class="a cl" style="left:411px;top:676.40px">13:30</div>
<div class="a dl" style="left:591px;top:699px;width:178px"></div>
<div class="a cl" style="left:591px;top:676.40px">13:30</div>
<div class="a dl" style="left:771px;top:699px;width:178px"></div>
<div class="a cl" style="left:771px;top:676.40px">13:30</div>
<div class="a dl" style="left:951px;top:699px;width:178px"></div>
<div class="a cl" style="left:951px;top:676.40px">13:30</div>
<div class="a dl" style="left:1131px;top:699px;width:178px"></div>
<div class="a cl" style="left:1131px;top:676.40px">13:30</div>
<div class="a dl" style="left:1311px;top:699px;width:178px"></div>
<div class="a cl" style="left:1311px;top:676.40px">13:30</div>
<div class="a dl" style="left:1491px;top:699px;width:178px"></div>
<div class="a cl" style="left:1491px;top:676.40px">13:30</div>
<div class="a dl" style="left:1671px;top:699px;width:178px"></div>
<div class="a cl" style="left:1671px;top:676.40px">13:30</div>
<div class="a dl" style="left:1851px;top:699px;width:55px"></div>
<div class="a" style="left:1851px;top:676.40px;width:55px;overflow:hidden;height:16px"><div class="cl">13:30</div></div>
<div class="a tl" style="top:682.50px">30</div>
<div class="a" style="left:293px;top:728px;width:117px;height:1px;background:#dcdcdc"></div>
<div class="a dl" style="left:411px;top:728px;width:178px"></div>
<div class="a cl" style="left:411px;top:705.65px">13:45</div>
<div class="a dl" style="left:591px;top:728px;width:178px"></div>
<div class="a cl" style="left:591px;top:705.65px">13:45</div>
<div class="a dl" style="left:771px;top:728px;width:178px"></div>
<div class="a cl" style="left:771px;top:705.65px">13:45</div>
<div class="a dl" style="left:951px;top:728px;width:178px"></div>
<div class="a cl" style="left:951px;top:705.65px">13:45</div>
<div class="a dl" style="left:1131px;top:728px;width:178px"></div>
<div class="a cl" style="left:1131px;top:705.65px">13:45</div>
<div class="a dl" style="left:1311px;top:728px;width:178px"></div>
<div class="a cl" style="left:1311px;top:705.65px">13:45</div>
<div class="a dl" style="left:1491px;top:728px;width:178px"></div>
<div class="a cl" style="left:1491px;top:705.65px">13:45</div>
<div class="a dl" style="left:1671px;top:728px;width:178px"></div>
<div class="a cl" style="left:1671px;top:705.65px">13:45</div>
<div class="a dl" style="left:1851px;top:728px;width:55px"></div>
<div class="a" style="left:1851px;top:705.65px;width:55px;overflow:hidden;height:16px"><div class="cl">13:45</div></div>
<div class="a tl" style="top:711.75px">45</div>
<div class="a dl" style="left:293px;top:757px;width:117px"></div>
<div class="a dl" style="left:411px;top:757px;width:178px"></div>
<div class="a cl" style="left:411px;top:734.90px">14:00</div>
<div class="a dl" style="left:591px;top:757px;width:178px"></div>
<div class="a cl" style="left:591px;top:734.90px">14:00</div>
<div class="a dl" style="left:771px;top:757px;width:178px"></div>
<div class="a cl" style="left:771px;top:734.90px">14:00</div>
<div class="a dl" style="left:951px;top:757px;width:178px"></div>
<div class="a cl" style="left:951px;top:734.90px">14:00</div>
<div class="a dl" style="left:1131px;top:757px;width:178px"></div>
<div class="a cl" style="left:1131px;top:734.90px">14:00</div>
<div class="a dl" style="left:1311px;top:757px;width:178px"></div>
<div class="a cl" style="left:1311px;top:734.90px">14:00</div>
<div class="a dl" style="left:1491px;top:757px;width:178px"></div>
<div class="a cl" style="left:1491px;top:734.90px">14:00</div>
<div class="a dl" style="left:1671px;top:757px;width:178px"></div>
<div class="a cl" style="left:1671px;top:734.90px">14:00</div>
<div class="a dl" style="left:1851px;top:757px;width:55px"></div>
<div class="a" style="left:1851px;top:734.90px;width:55px;overflow:hidden;height:16px"><div class="cl">14:00</div></div>
<div class="a tl h" style="top:741.00px">14:00</div>
<div class="a dl" style="left:293px;top:787px;width:117px"></div>
<div class="a dl" style="left:411px;top:787px;width:178px"></div>
<div class="a cl" style="left:411px;top:764.15px">14:15</div>
<div class="a dl" style="left:591px;top:787px;width:178px"></div>
<div class="a cl" style="left:591px;top:764.15px">14:15</div>
<div class="a dl" style="left:771px;top:787px;width:178px"></div>
<div class="a cl" style="left:771px;top:764.15px">14:15</div>
<div class="a dl" style="left:951px;top:787px;width:178px"></div>
<div class="a cl" style="left:951px;top:764.15px">14:15</div>
<div class="a dl" style="left:1131px;top:787px;width:178px"></div>
<div class="a cl" style="left:1131px;top:764.15px">14:15</div>
<div class="a dl" style="left:1311px;top:787px;width:178px"></div>
<div class="a cl" style="left:1311px;top:764.15px">14:15</div>
<div class="a dl" style="left:1491px;top:787px;width:178px"></div>
<div class="a cl" style="left:1491px;top:764.15px">14:15</div>
<div class="a dl" style="left:1671px;top:787px;width:178px"></div>
<div class="a cl" style="left:1671px;top:764.15px">14:15</div>
<div class="a dl" style="left:1851px;top:787px;width:55px"></div>
<div class="a" style="left:1851px;top:764.15px;width:55px;overflow:hidden;height:16px"><div class="cl">14:15</div></div>
<div class="a tl" style="top:770.25px">15</div>
<div class="a dl" style="left:293px;top:816px;width:117px"></div>
<div class="a dl" style="left:411px;top:816px;width:178px"></div>
<div class="a cl" style="left:411px;top:793.40px">14:30</div>
<div class="a dl" style="left:591px;top:816px;width:178px"></div>
<div class="a cl" style="left:591px;top:793.40px">14:30</div>
<div class="a dl" style="left:771px;top:816px;width:178px"></div>
<div class="a cl" style="left:771px;top:793.40px">14:30</div>
<div class="a dl" style="left:951px;top:816px;width:178px"></div>
<div class="a cl" style="left:951px;top:793.40px">14:30</div>
<div class="a dl" style="left:1131px;top:816px;width:178px"></div>
<div class="a cl" style="left:1131px;top:793.40px">14:30</div>
<div class="a dl" style="left:1311px;top:816px;width:178px"></div>
<div class="a cl" style="left:1311px;top:793.40px">14:30</div>
<div class="a dl" style="left:1491px;top:816px;width:178px"></div>
<div class="a cl" style="left:1491px;top:793.40px">14:30</div>
<div class="a dl" style="left:1671px;top:816px;width:178px"></div>
<div class="a cl" style="left:1671px;top:793.40px">14:30</div>
<div class="a dl" style="left:1851px;top:816px;width:55px"></div>
<div class="a" style="left:1851px;top:793.40px;width:55px;overflow:hidden;height:16px"><div class="cl">14:30</div></div>
<div class="a tl" style="top:799.50px">30</div>
<div class="a" style="left:293px;top:845px;width:117px;height:1px;background:#dcdcdc"></div>
<div class="a dl" style="left:411px;top:845px;width:178px"></div>
<div class="a cl" style="left:411px;top:822.65px">14:45</div>
<div class="a dl" style="left:591px;top:845px;width:178px"></div>
<div class="a cl" style="left:591px;top:822.65px">14:45</div>
<div class="a dl" style="left:771px;top:845px;width:178px"></div>
<div class="a cl" style="left:771px;top:822.65px">14:45</div>
<div class="a dl" style="left:951px;top:845px;width:178px"></div>
<div class="a cl" style="left:951px;top:822.65px">14:45</div>
<div class="a dl" style="left:1131px;top:845px;width:178px"></div>
<div class="a cl" style="left:1131px;top:822.65px">14:45</div>
<div class="a dl" style="left:1311px;top:845px;width:178px"></div>
<div class="a cl" style="left:1311px;top:822.65px">14:45</div>
<div class="a dl" style="left:1491px;top:845px;width:178px"></div>
<div class="a cl" style="left:1491px;top:822.65px">14:45</div>
<div class="a dl" style="left:1671px;top:845px;width:178px"></div>
<div class="a cl" style="left:1671px;top:822.65px">14:45</div>
<div class="a dl" style="left:1851px;top:845px;width:55px"></div>
<div class="a" style="left:1851px;top:822.65px;width:55px;overflow:hidden;height:16px"><div class="cl">14:45</div></div>
<div class="a tl" style="top:828.75px">45</div>
<div class="a dl" style="left:293px;top:874px;width:117px"></div>
<div class="a dl" style="left:411px;top:874px;width:178px"></div>
<div class="a cl" style="left:411px;top:851.90px">15:00</div>
<div class="a dl" style="left:591px;top:874px;width:178px"></div>
<div class="a cl" style="left:591px;top:851.90px">15:00</div>
<div class="a dl" style="left:771px;top:874px;width:178px"></div>
<div class="a cl" style="left:771px;top:851.90px">15:00</div>
<div class="a dl" style="left:951px;top:874px;width:178px"></div>
<div class="a cl" style="left:951px;top:851.90px">15:00</div>
<div class="a dl" style="left:1131px;top:874px;width:178px"></div>
<div class="a cl" style="left:1131px;top:851.90px">15:00</div>
<div class="a dl" style="left:1311px;top:874px;width:178px"></div>
<div class="a cl" style="left:1311px;top:851.90px">15:00</div>
<div class="a dl" style="left:1491px;top:874px;width:178px"></div>
<div class="a cl" style="left:1491px;top:851.90px">15:00</div>
<div class="a dl" style="left:1671px;top:874px;width:178px"></div>
<div class="a cl" style="left:1671px;top:851.90px">15:00</div>
<div class="a dl" style="left:1851px;top:874px;width:55px"></div>
<div class="a" style="left:1851px;top:851.90px;width:55px;overflow:hidden;height:16px"><div class="cl">15:00</div></div>
<div class="a tl h" style="top:858.00px">15:00</div>
<div class="a dl" style="left:293px;top:904px;width:117px"></div>
<div class="a dl" style="left:411px;top:904px;width:178px"></div>
<div class="a cl" style="left:411px;top:881.15px">15:15</div>
<div class="a dl" style="left:591px;top:904px;width:178px"></div>
<div class="a cl" style="left:591px;top:881.15px">15:15</div>
<div class="a dl" style="left:771px;top:904px;width:178px"></div>
<div class="a cl" style="left:771px;top:881.15px">15:15</div>
<div class="a dl" style="left:951px;top:904px;width:178px"></div>
<div class="a cl" style="left:951px;top:881.15px">15:15</div>
<div class="a dl" style="left:1131px;top:904px;width:178px"></div>
<div class="a cl" style="left:1131px;top:881.15px">15:15</div>
<div class="a dl" style="left:1311px;top:904px;width:178px"></div>
<div class="a cl" style="left:1311px;top:881.15px">15:15</div>
<div class="a dl" style="left:1491px;top:904px;width:178px"></div>
<div class="a cl" style="left:1491px;top:881.15px">15:15</div>
<div class="a dl" style="left:1671px;top:904px;width:178px"></div>
<div class="a cl" style="left:1671px;top:881.15px">15:15</div>
<div class="a dl" style="left:1851px;top:904px;width:55px"></div>
<div class="a" style="left:1851px;top:881.15px;width:55px;overflow:hidden;height:16px"><div class="cl">15:15</div></div>
<div class="a tl" style="top:887.25px">15</div>
<div class="a" style="left:412px;top:547px;width:1494px;height:1px;background-image:repeating-linear-gradient(to right,#f4a2a2 0 3.3px,transparent 3.3px 5px)"></div>
<div class="a ap" style="left:951px;top:407px;width:180px;height:117px;background:#fec04b;border-right:1px solid #2c3e50;border-bottom:1px solid #2c3e50;padding:0 0 0 4px">
<div class="b">Mark Borer |</div>
<div style="margin-left:-2px;letter-spacing:-0.2px"><svg width="10" height="10" viewBox="0 0 10 10" style="vertical-align:-1px"><circle cx="5" cy="5" r="4.2" fill="none" stroke="#fff" stroke-width="1.1"/><path d="M5 2.5 L5 5 L7 5" fill="none" stroke="#fff" stroke-width="1.1"/></svg> 11:15 - 12:15 (1 hour)</div>
<div>ID#9405: Hot stone full back</div><div>massage</div><div>&nbsp;</div><div>List:</div><div>- Hot stone full back</div></div>
<div class="a" style="left:1076px;top:505px;width:52px;height:18px;border:1px dotted #c9a27a;border-radius:5px 0 0 0;color:#fff;font-size:8.5px;font-weight:bold;text-align:center;line-height:19px">BOOKED</div>
<div class="a ap" style="left:1491px;top:407px;width:180px;height:205px;background:#9b59b6;border-right:1px solid #2c3e50;border-bottom:1px solid #2c3e50;padding:0 0 0 4px">
<div class="b">Eva Cartwright |</div>
<div style="margin-left:-2px;letter-spacing:-0.2px"><svg width="10" height="10" viewBox="0 0 10 10" style="vertical-align:-1px"><circle cx="5" cy="5" r="4.2" fill="none" stroke="#fff" stroke-width="1.1"/><path d="M5 2.5 L5 5 L7 5" fill="none" stroke="#fff" stroke-width="1.1"/></svg> 11:15 - 13:00 (1 hour 45 mins)</div>
<div>ID#9406: Upper Lip</div><div>&nbsp;</div><div>List:</div><div>- Upper Lip (<span style="font-size:9px">W | Waxing</span>)</div></div>
<div class="a" style="left:1616px;top:594px;width:51px;height:17px;background:#d41ccf;border-radius:3px 3px 0 0;color:#fff;font-size:8.5px;font-weight:bold;text-align:center;line-height:20px;letter-spacing:0.2px">ARRIVED</div>
<div class="a" style="left:1492px;top:547px;width:178px;height:1px;background-image:repeating-linear-gradient(to right,#e0506a 0 1.5px,transparent 1.5px 5px);opacity:.8"></div>
<div class="a" style="left:951px;top:517px;width:125px;height:5px;border-top:1px dotted rgba(90,70,90,.55);border-bottom:1px dotted rgba(90,70,90,.45)"></div>
<div class="a" style="left:1127px;top:506px;width:2px;height:17px;background:#b08660;opacity:.7"></div>
<div class="a" style="left:1491px;top:607px;width:125px;height:1px;border-top:1px dotted rgba(60,40,70,.6)"></div>
<div class="a" style="left:1667px;top:592px;width:1px;height:19px;border-left:1px dotted rgba(60,40,70,.6)"></div>
<div class="a" style="left:594px;top:420px;width:140px;height:42px;background:#74e0d0;border-radius:0 6px 6px 0;border-bottom:1px solid #2fb8a5;box-shadow:0 3px 6px rgba(0,0,0,.16);font-size:13px;color:#111;line-height:21px;padding:0 0 0 13px;letter-spacing:0.5px;-webkit-text-stroke:0.3px #111">DR. Andrew<br>11:15</div>
<svg class="a" style="left:580px;top:420px" width="14" height="21" viewBox="0 0 14 21"><path d="M1.5 1.5 L1.5 16 L5 12.8 L7.6 18.6 L10 17.5 L7.5 11.9 L12 11.9 Z" fill="#fff" stroke="#000" stroke-width="1.2" stroke-linejoin="round"/></svg>
<div class="a" style="left:1906px;top:145px;width:5px;height:761px;background:#f1f0f0"></div>
<div class="a" style="left:1906px;top:145px;width:5px;height:372px;background:#888"></div>
<div class="a" style="left:293px;top:906px;width:1613px;height:5px;background:#f1f0f0"></div>
<div class="a" style="left:293px;top:906px;width:1059px;height:5px;background:#888"></div>
<div class="a" style="left:1879px;top:285px;width:41px;height:43px;background:#fff;border-radius:4px 0 0 4px;box-shadow:0 0 8px rgba(0,0,0,.08)"></div>
<div class="a" style="left:1886px;top:293px;width:27px;height:26px;background:#f1f1f3;border-radius:3px"></div>
<svg class="a" style="left:1890px;top:297px" width="18" height="18" viewBox="0 0 18 18"><path d="M16.6 1.6 L14.4 1.6 L12.1 10.9 L4.4 10.9 L2.1 3.4 L13.9 3.4" fill="none" stroke="#f7b335" stroke-width="1.9" stroke-linejoin="round"/><circle cx="6" cy="14.3" r="1.7" fill="none" stroke="#f7b335" stroke-width="1.6"/><circle cx="11" cy="14.3" r="1.7" fill="none" stroke="#f7b335" stroke-width="1.6"/></svg>
<div class="a" style="left:1879px;top:342px;width:41px;height:44px;background:#fff;border-radius:4px 0 0 4px;box-shadow:0 0 8px rgba(0,0,0,.08)"></div>
<div class="a" style="left:1886px;top:351px;width:27px;height:26px;background:#f1f1f3;border-radius:3px"></div>
<svg class="a" style="left:1891px;top:356px" width="16" height="16" viewBox="0 0 16 16"><circle cx="8" cy="8" r="7.5" fill="#1fbfa8"/><path d="M5 4 C4.2 4.8 4.2 6 5 7.5 C6 9.5 7.5 11 9.5 11.8 C10.5 12.2 11.5 11.8 12 11 L10.5 9.6 L9.5 10.2 C8.3 9.6 7 8.3 6.4 7 L7 6 L5.8 4 Z" fill="#fff"/></svg>
</body></html>
